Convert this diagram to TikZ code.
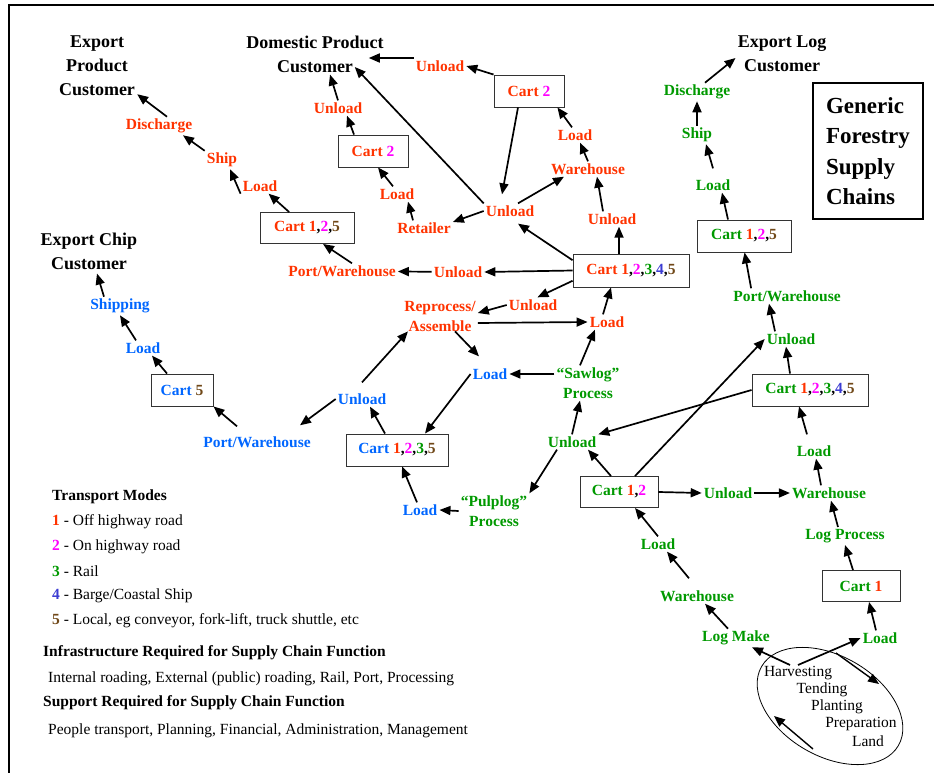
\documentclass[tikz,border=0pt]{standalone}
\usepackage{fontspec}
\setmainfont{Liberation Serif}
\usetikzlibrary{arrows.meta}
\definecolor{cr}{RGB}{255,51,0}
\definecolor{cg}{RGB}{0,153,0}
\definecolor{cb}{RGB}{0,102,255}
\definecolor{cm}{RGB}{255,0,255}
\definecolor{cp}{RGB}{60,60,210}
\definecolor{cn}{RGB}{112,72,24}
\newcommand{\modeA}{\textcolor{cr}{1}}
\newcommand{\modeB}{\textcolor{cm}{2}}
\newcommand{\modeC}{\textcolor{cg}{3}}
\newcommand{\modeD}{\textcolor{cp}{4}}
\newcommand{\modeE}{\textcolor{cn}{5}}
\tikzset{
  lbl/.style={font=\bfseries\fontsize{15.5}{20}\selectfont, inner sep=2pt, align=center},
  rtxt/.style={lbl, text=cr},
  gtxt/.style={lbl, text=cg},
  btxt/.style={lbl, text=cb},
  cartbox/.style={lbl, draw=black!80, line width=0.9pt, minimum height=31pt},
  head/.style={font=\bfseries\fontsize{18}{24}\selectfont, align=center, inner sep=2pt},
  titlebox/.style={draw, line width=1.3pt, minimum width=110pt, minimum height=136pt, align=left, font=\bfseries\fontsize{23}{30.3}\selectfont},
  etxt/.style={font=\fontsize{15.5}{18}\selectfont, inner sep=1pt},
  legend/.style={font=\fontsize{15.5}{18}\selectfont, anchor=west, inner sep=0pt},
  legendb/.style={legend, font=\bfseries\fontsize{15.5}{18}\selectfont},
  arr/.style={-{Triangle[length=11pt,width=9pt]}, line width=1.7pt},
}
\begin{document}
\begin{tikzpicture}[x=1pt,y=-1pt]
\useasboundingbox (0,0) rectangle (934,773);
\draw[line width=2pt] (9,773) -- (9,5) -- (934,5);

% headings
\node[head] (hEP) at (97,66) {Export\\Product\\Customer};
\node[head] (hDP) at (315,54) {Domestic Product\\Customer};
\node[head] (hEC) at (89,251) {Export Chip\\Customer};
\node[head] (hEL) at (782,54) {Export Log\\Customer};
\node[titlebox] (ttl) at (868,151) {Generic\\Forestry\\Supply\\Chains};

% red chain
\node[rtxt] (rDis) at (159,126) {Discharge};
\node[rtxt] (rShip) at (222,160) {Ship};
\node[rtxt] (rLoadA) at (260,186) {Load};
\node[cartbox,minimum width=94pt] (cRA) at (307,228) {\textcolor{cr}{Cart 1},\modeB,\modeE};
\node[rtxt] (rPW) at (342,271) {Port/Warehouse};
\node[rtxt] (rUnL) at (458,272) {Unload};
\node[cartbox,minimum width=116pt,minimum height=33pt] (c5R) at (631,270.5) {\textcolor{cr}{Cart 1},\modeB,\modeC,\modeD,\modeE};
\node[rtxt] (rUnUp) at (612,219) {Unload};
\node[rtxt] (rWare) at (588,169) {Warehouse};
\node[rtxt] (rLoadB) at (575,135) {Load};
\node[cartbox,minimum width=70pt,minimum height=32pt] (cR2a) at (529,91) {\textcolor{cr}{Cart} \modeB};
\node[rtxt] (rUnTop) at (440,66) {Unload};
\node[rtxt] (rHub) at (510,211) {Unload};
\node[rtxt] (rRet) at (424,228) {Retailer};
\node[rtxt] (rLoadC) at (397,194) {Load};
\node[cartbox,minimum width=70pt,minimum height=32pt] (cR2b) at (373,151) {\textcolor{cr}{Cart} \modeB};
\node[rtxt] (rUnMid) at (338,108) {Unload};
\node[rtxt] (rUnLow) at (533,305) {Unload};
\node[rtxt] (rRep) at (440,316) {Reprocess/\\Assemble};
\node[rtxt] (rLoadD) at (607,322) {Load};

% blue chain
\node[btxt] (bLoadA) at (490,374) {Load};
\node[cartbox,minimum width=102pt,minimum height=32pt] (cB4) at (397,450) {\textcolor{cb}{Cart} \modeA,\modeB,\modeC,\modeE};
\node[btxt] (bUn) at (362,399) {Unload};
\node[btxt] (bPW) at (257,442) {Port/Warehouse};
\node[cartbox,minimum width=62pt,minimum height=32pt] (cB5) at (182,390) {\textcolor{cb}{Cart} \modeE};
\node[btxt] (bLoad) at (143,348) {Load};
\node[btxt] (bShip) at (120,306) {Shipping};
\node[btxt] (bLoadB) at (420,510) {Load};

% green chain
\node[gtxt] (gSaw) at (588,383) {“Sawlog”\\Process};
\node[gtxt] (gPulp) at (494,511) {“Pulplog”\\Process};
\node[gtxt] (gUnA) at (572,442) {Unload};
\node[cartbox,minimum width=78pt] (cG12) at (619,492) {\textcolor{cg}{Cart} \modeA,\modeB};
\node[gtxt] (gUnB) at (728,493) {Unload};
\node[gtxt] (gWareA) at (829,493) {Warehouse};
\node[gtxt] (gLoadA) at (814,451) {Load};
\node[cartbox,minimum width=116pt,minimum height=32pt] (cG5) at (810,390) {\textcolor{cg}{Cart} \modeA,\modeB,\modeC,\modeD,\modeE};
\node[gtxt] (gUnC) at (791,339) {Unload};
\node[gtxt] (gPW) at (787,296) {Port/Warehouse};
\node[cartbox,minimum width=94pt,minimum height=32pt] (cG3) at (744,236) {\textcolor{cg}{Cart} \modeA,\modeB,\modeE};
\node[gtxt] (gLoadB) at (713,185) {Load};
\node[gtxt] (gShip) at (697,135) {Ship};
\node[gtxt] (gDis) at (697,92) {Discharge};
\node[gtxt] (gLogP) at (845,536) {Log Process};
\node[cartbox,minimum width=78pt] (cG1) at (861,586) {\textcolor{cg}{Cart} \modeA};
\node[gtxt] (gLoadC) at (880,638) {Load};
\node[gtxt] (gLoadD) at (658,544) {Load};
\node[gtxt] (gWareB) at (697,596) {Warehouse};
\node[gtxt] (gLogM) at (736,638) {Log Make};

% forest cycle
\draw[line width=0.8pt, rotate around={-30:(830,706)}] (830,706) ellipse [x radius=79, y radius=50];
\node[etxt] (eH) at (798,673) {Harvesting};
\node[etxt] (eT) at (822,690) {Tending};
\node[etxt] (eP) at (837,707) {Planting};
\node[etxt] (ePr) at (861,724) {Preparation};
\node[etxt] (eL) at (868,741) {Land};
\coordinate (cyA) at (836,653);
\coordinate (cyB) at (879,684);
\coordinate (cyC) at (813,749);
\coordinate (cyD) at (774,716);

% legend
\node[legendb] (lgT) at (52,497) {Transport Modes};
\node[legend] (lg1) at (52,522) {\textbf{\textcolor{cr}{1}} - Off highway road};
\node[legend] (lg2) at (52,547) {\textbf{\textcolor{cm}{2}} - On highway road};
\node[legend] (lg3) at (52,571) {\textbf{\textcolor{cg}{3}} - Rail};
\node[legend] (lg4) at (52,596) {\textbf{\textcolor{cp}{4}} - Barge/Coastal Ship};
\node[legend] (lg5) at (52,621) {\textbf{\textcolor{cn}{5}} - Local, eg conveyor, fork-lift, truck shuttle, etc};
\node[legendb] (lgI) at (43,653) {Infrastructure Required for Supply Chain Function};
\node[legend] (lgI2) at (48,679) {Internal roading, External (public) roading, Rail, Port, Processing};
\node[legendb] (lgS) at (43,703) {Support Required for Supply Chain Function};
\node[legend] (lgS2) at (48,731) {People transport, Planning, Financial, Administration, Management};

% red arrows
\draw[arr] (cRA) -- (rLoadA);
\draw[arr] (rLoadA.south west) -- ([xshift=8pt]rShip.south);
\draw[arr] (rShip.north west) -- ([xshift=24pt]rDis.south);
\draw[arr] ([xshift=8pt]rDis.north) -- ([yshift=4pt]hEP.south east);
\draw[arr] ([xshift=10pt]rPW.north) -- ([xshift=16pt]cRA.south);
\draw[arr] (rUnL) -- (rPW);
\draw[arr] (c5R.west) -- (rUnL.east);
\draw[arr] (c5R.190) -- (rUnLow.60);
\draw[arr] (c5R.170) -- ([xshift=8pt,yshift=-5pt]rHub.south);
\draw[arr] ([xshift=-12pt]c5R.north) -- ([xshift=7pt]rUnUp.south);
\draw[arr] ([xshift=-9pt]rUnUp.north) -- ([xshift=9pt]rWare.south);
\draw[arr] (rWare.north) -- ([xshift=5pt]rLoadB.south);
\draw[arr] ([xshift=-3pt]rLoadB.north) -- ([xshift=-7pt]cR2a.south east);
\draw[arr] ([xshift=8pt]rHub.north) -- ([xshift=-24pt]rWare.south);
\draw[arr] (cR2a.north west) -- (rUnTop.east);
\draw[arr] ([yshift=8pt]rUnTop.west) -- ([xshift=-17pt,yshift=-4pt]hDP.east);
\draw[arr] ([xshift=-11pt]cR2a.south) -- ([xshift=-8pt,yshift=9pt]rHub.north);
\draw[arr] (rHub.north west) -- ([xshift=-31pt,yshift=-13pt]hDP.east);
\draw[arr] (rUnMid.north) -- ([xshift=15pt]hDP.south);
\draw[arr] ([xshift=-19pt]cR2b.north) -- ([xshift=9pt]rUnMid.south);
\draw[arr] ([xshift=-4pt]rLoadC.north) -- ([xshift=5pt]cR2b.south);
\draw[arr] ([xshift=-11pt]rRet.north) -- ([xshift=11pt]rLoadC.south);
\draw[arr] (rHub.west) -- ([yshift=6pt]rRet.east);
\draw[arr] (rUnLow.west) -- ([yshift=3pt]rRep.east);
\draw[arr] ([yshift=-7pt]rRep.east) -- (rLoadD.west);
\draw[arr] ([xshift=-4pt]rLoadD.north) -- ([xshift=-20pt]c5R.south);
\draw[arr] ([xshift=-8pt]gSaw.north) -- ([xshift=-12pt]rLoadD.south);
\draw[arr] ([yshift=9pt]gSaw.west) -- (bLoadA.east);
\draw[arr] ([xshift=15pt,yshift=2pt]rRep.south) -- ([xshift=-11pt,yshift=10pt]bLoadA.north);

% blue arrows
\draw[arr] (bLoadA.west) -- ([xshift=28pt]cB4.north);
\draw[arr] ([xshift=-3pt]bLoadB.north) -- ([xshift=5pt]cB4.south);
\draw[arr] (gPulp.west) -- (bLoadB.east);
\draw[arr] ([xshift=-12pt]cB4.north) -- ([xshift=8pt]bUn.south);
\draw[arr] ([yshift=9pt]bUn.north) -- ([xshift=-32pt,yshift=2pt]rRep.south);
\draw[arr] (bUn.west) -- ([xshift=43pt,yshift=9pt]bPW.north);
\draw[arr] ([xshift=-20pt,yshift=8pt]bPW.north) -- (cB5.south east);
\draw[arr] ([xshift=-15pt]cB5.north) -- ([xshift=9pt]bLoad.south);
\draw[arr] ([xshift=-7pt]bLoad.north) -- (bShip.south);
\draw[arr] ([xshift=-16pt]bShip.north) -- ([xshift=8pt,yshift=-2pt]hEC.south);

% green arrows
\draw[arr] ([xshift=-15pt]gUnA.south) -- (gPulp.north east);
\draw[arr] (gUnA.north) -- ([xshift=-8pt]gSaw.south);
\draw[arr] ([xshift=-8pt]cG12.north) -- ([xshift=16pt]gUnA.south);
\draw[arr] ([xshift=16pt]cG12.north) -- (gUnC.west);
\draw[arr] (cG5.west) -- (gUnA.north east);
\draw[arr] ([xshift=-20pt]cG5.north) -- ([xshift=-5pt]gUnC.south);
\draw[arr] ([xshift=-16pt]gUnC.north) -- ([xshift=-18pt]gPW.south);
\draw[arr] ([xshift=20pt]gPW.north west) -- ([xshift=48pt]cG3.south west);
\draw[arr] ([xshift=-16pt]cG3.north) -- ([xshift=9pt]gLoadB.south);
\draw[arr] ([yshift=9pt]gLoadB.north) -- ([xshift=9pt]gShip.south);
\draw[arr] (gShip) -- (gDis);
\draw[arr] ([xshift=8pt]gDis.north) -- ([yshift=-4pt]hEL.west);
\draw[arr] (cG12.east) -- (gUnB.west);
\draw[arr] (gUnB) -- (gWareA);
\draw[arr] ([xshift=-8pt]gWareA.north) -- ([xshift=2pt]gLoadA.south);
\draw[arr] ([xshift=-7pt,yshift=9pt]gLoadA.north) -- ([xshift=-11pt]cG5.south);
\draw[arr] ([xshift=-7pt]gLogP.north) -- ([xshift=2pt]gWareA.south);
\draw[arr] ([xshift=-8pt]cG1.north) -- (gLogP.south);
\draw[arr] ([xshift=-4pt]gLoadC.north) -- ([xshift=8pt]cG1.south);
\draw[arr] (gLoadD.north) -- ([xshift=16pt]cG12.south);
\draw[arr] ([xshift=-8pt,yshift=10pt]gWareB.north) -- ([xshift=9pt]gLoadD.south);
\draw[arr] ([xshift=-8pt]gLogM.north) -- ([xshift=8pt]gWareB.south);
\draw[arr] ([xshift=-8pt]eH.north) -- ([xshift=16pt]gLogM.south);
\draw[arr] (eH.north) -- (gLoadC.west);
\draw[arr, line width=1.4pt] (cyA) -- (cyB);
\draw[arr, line width=1.4pt] (cyC) -- (cyD);
\end{tikzpicture}
\end{document}
